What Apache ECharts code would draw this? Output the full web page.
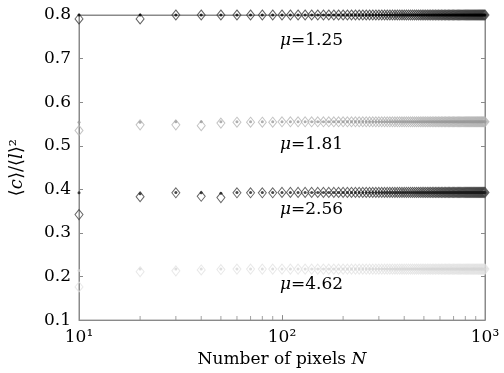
<!DOCTYPE html>
<html><head><meta charset="utf-8">
<script src="https://cdn.jsdelivr.net/npm/echarts@6/dist/echarts.min.js"></script>
<style>html,body{margin:0;padding:0;background:#fff}#c{width:504px;height:373px}</style>
</head><body><div id="c"></div>
<script>
const N = [10,20,30,40,50,60,70,80,90,100,110,120,130,140,150,160,170,180,190,200,
210,220,230,240,250,260,270,280,290,300,310,320,330,340,350,360,370,380,390,400,
410,420,430,440,450,460,470,480,490,500,510,520,530,540,550,560,570,580,590,600,
610,620,630,640,650,660,670,680,690,700,710,720,730,740,750,760,770,780,790,800,
810,820,830,840,850,860,870,880,890,900,910,920,930,940,950,960,970,980,990,1000];

const mu125Diamond = [0.791,0.791,0.800,0.800,0.800,0.800,0.800,0.800,0.800,0.800,
0.800,0.800,0.800,0.800,0.800,0.800,0.800,0.800,0.800,0.800,0.800,0.800,0.800,0.800,0.800,
0.800,0.800,0.800,0.800,0.800,0.800,0.800,0.800,0.800,0.800,0.800,0.800,0.800,0.800,0.800,
0.800,0.800,0.800,0.800,0.800,0.800,0.800,0.800,0.800,0.800,0.800,0.800,0.800,0.800,0.800,
0.800,0.800,0.800,0.800,0.800,0.800,0.800,0.800,0.800,0.800,0.800,0.800,0.800,0.800,0.800,
0.800,0.800,0.800,0.800,0.800,0.800,0.800,0.800,0.800,0.800,0.800,0.800,0.800,0.800,0.800,
0.800,0.800,0.800,0.800,0.800,0.800,0.800,0.800,0.800,0.800,0.800,0.800,0.800,0.800,0.800];
const mu125Dot = [0.800,0.800,0.800,0.800,0.800,0.800,0.800,0.800,0.800,0.800,
0.800,0.800,0.800,0.800,0.800,0.800,0.800,0.800,0.800,0.800,0.800,0.800,0.800,0.800,0.800,
0.800,0.800,0.800,0.800,0.800,0.800,0.800,0.800,0.800,0.800,0.800,0.800,0.800,0.800,0.800,
0.800,0.800,0.800,0.800,0.800,0.800,0.800,0.800,0.800,0.800,0.800,0.800,0.800,0.800,0.800,
0.800,0.800,0.800,0.800,0.800,0.800,0.800,0.800,0.800,0.800,0.800,0.800,0.800,0.800,0.800,
0.800,0.800,0.800,0.800,0.800,0.800,0.800,0.800,0.800,0.800,0.800,0.800,0.800,0.800,0.800,
0.800,0.800,0.800,0.800,0.800,0.800,0.800,0.800,0.800,0.800,0.800,0.800,0.800,0.800,0.800];

const mu181Diamond = [0.535,0.548,0.548,0.546,0.552,0.554,0.554,0.554,0.554,0.555,
0.555,0.555,0.555,0.555,0.555,0.555,0.555,0.555,0.555,0.555,0.555,0.555,0.555,0.555,0.555,
0.555,0.555,0.555,0.555,0.555,0.555,0.555,0.555,0.555,0.555,0.555,0.555,0.555,0.555,0.555,
0.555,0.555,0.555,0.555,0.555,0.555,0.555,0.555,0.555,0.555,0.555,0.555,0.555,0.555,0.555,
0.555,0.555,0.555,0.555,0.555,0.555,0.555,0.555,0.555,0.555,0.555,0.555,0.555,0.555,0.555,
0.555,0.555,0.555,0.555,0.555,0.555,0.555,0.555,0.555,0.555,0.555,0.555,0.555,0.555,0.555,
0.555,0.555,0.555,0.555,0.555,0.555,0.555,0.555,0.555,0.555,0.555,0.555,0.555,0.555,0.555];
const mu181Dot = [0.554,0.554,0.555,0.555,0.555,0.555,0.555,0.555,0.555,0.555,
0.555,0.555,0.555,0.555,0.555,0.555,0.555,0.555,0.555,0.555,0.555,0.555,0.555,0.555,0.555,
0.555,0.555,0.555,0.555,0.555,0.555,0.555,0.555,0.555,0.555,0.555,0.555,0.555,0.555,0.555,
0.555,0.555,0.555,0.555,0.555,0.555,0.555,0.555,0.555,0.555,0.555,0.555,0.555,0.555,0.555,
0.555,0.555,0.555,0.555,0.555,0.555,0.555,0.555,0.555,0.555,0.555,0.555,0.555,0.555,0.555,
0.555,0.555,0.555,0.555,0.555,0.555,0.555,0.555,0.555,0.555,0.555,0.555,0.555,0.555,0.555,
0.555,0.555,0.555,0.555,0.555,0.555,0.555,0.555,0.555,0.555,0.555,0.555,0.555,0.555,0.555];

const mu256Diamond = [0.342,0.383,0.392,0.384,0.381,0.392,0.392,0.392,0.392,0.393,
0.393,0.393,0.393,0.393,0.393,0.393,0.393,0.393,0.393,0.393,0.393,0.393,0.393,0.393,0.393,
0.393,0.393,0.393,0.393,0.393,0.393,0.393,0.393,0.393,0.393,0.393,0.393,0.393,0.393,0.393,
0.393,0.393,0.393,0.393,0.393,0.393,0.393,0.393,0.393,0.393,0.393,0.393,0.393,0.393,0.393,
0.393,0.393,0.393,0.393,0.393,0.393,0.393,0.393,0.393,0.393,0.393,0.393,0.393,0.393,0.393,
0.393,0.393,0.393,0.393,0.393,0.393,0.393,0.393,0.393,0.393,0.393,0.393,0.393,0.393,0.393,
0.393,0.393,0.393,0.393,0.393,0.393,0.393,0.393,0.393,0.393,0.393,0.393,0.393,0.393,0.393];
const mu256Dot = [0.392,0.390,0.393,0.392,0.391,0.393,0.393,0.393,0.393,0.393,
0.393,0.393,0.393,0.393,0.393,0.393,0.393,0.393,0.393,0.393,0.393,0.393,0.393,0.393,0.393,
0.393,0.393,0.393,0.393,0.393,0.393,0.393,0.393,0.393,0.393,0.393,0.393,0.393,0.393,0.393,
0.393,0.393,0.393,0.393,0.393,0.393,0.393,0.393,0.393,0.393,0.393,0.393,0.393,0.393,0.393,
0.393,0.393,0.393,0.393,0.393,0.393,0.393,0.393,0.393,0.393,0.393,0.393,0.393,0.393,0.393,
0.393,0.393,0.393,0.393,0.393,0.393,0.393,0.393,0.393,0.393,0.393,0.393,0.393,0.393,0.393,
0.393,0.393,0.393,0.393,0.393,0.393,0.393,0.393,0.393,0.393,0.393,0.393,0.393,0.393,0.393];

const mu462Diamond = [0.176,0.211,0.213,0.215,0.216,0.217,0.217,0.217,0.217,0.217,
0.217,0.217,0.217,0.217,0.217,0.217,0.217,0.217,0.217,0.217,0.217,0.217,0.217,0.217,0.217,
0.217,0.217,0.217,0.217,0.217,0.217,0.217,0.217,0.217,0.217,0.217,0.217,0.217,0.217,0.217,
0.217,0.217,0.217,0.217,0.217,0.217,0.217,0.217,0.217,0.217,0.217,0.217,0.217,0.217,0.217,
0.217,0.217,0.217,0.217,0.217,0.217,0.217,0.217,0.217,0.217,0.217,0.217,0.217,0.217,0.217,
0.217,0.217,0.217,0.217,0.217,0.217,0.217,0.217,0.217,0.217,0.217,0.217,0.217,0.217,0.217,
0.217,0.217,0.217,0.217,0.217,0.217,0.217,0.217,0.217,0.217,0.217,0.217,0.217,0.217,0.217];
const mu462Dot = [0.214,0.217,0.217,0.217,0.217,0.217,0.217,0.217,0.217,0.217,
0.217,0.217,0.217,0.217,0.217,0.217,0.217,0.217,0.217,0.217,0.217,0.217,0.217,0.217,0.217,
0.217,0.217,0.217,0.217,0.217,0.217,0.217,0.217,0.217,0.217,0.217,0.217,0.217,0.217,0.217,
0.217,0.217,0.217,0.217,0.217,0.217,0.217,0.217,0.217,0.217,0.217,0.217,0.217,0.217,0.217,
0.217,0.217,0.217,0.217,0.217,0.217,0.217,0.217,0.217,0.217,0.217,0.217,0.217,0.217,0.217,
0.217,0.217,0.217,0.217,0.217,0.217,0.217,0.217,0.217,0.217,0.217,0.217,0.217,0.217,0.217,
0.217,0.217,0.217,0.217,0.217,0.217,0.217,0.217,0.217,0.217,0.217,0.217,0.217,0.217,0.217];

const minorTickN = [20,30,40,50,60,70,80,90,200,300,400,500,600,700,800,900];
const muLabels = ['1.25','1.81','2.56','4.62'];
const xTickLabels = {10:'10¹',100:'10²',1000:'10³'};

const FONT = 'DejaVu Serif';
const AX = '#8a8a8a';
const TXT = '#000';
function pairs(ys){ return N.map((n,i)=>[n, ys[i]]); }

const groups = [
  {d: mu125Diamond, o: mu125Dot, dc: '#3a3a3a', oc: '#000000'},
  {d: mu181Diamond, o: mu181Dot, dc: '#b4b4b4', oc: '#9a9a9a'},
  {d: mu256Diamond, o: mu256Dot, dc: '#404040', oc: '#1a1a1a'},
  {d: mu462Diamond, o: mu462Dot, dc: '#e2e2e2', oc: '#d6d6d6'}
];
const series = [];
groups.forEach(g=>{
  series.push({type:'scatter', data: pairs(g.d), symbol:'diamond', symbolSize:[8,10],
    itemStyle:{color:'rgba(255,255,255,0)', borderColor:g.dc, borderWidth:1}, silent:true, clip:false, z:2});
  series.push({type:'scatter', data: pairs(g.o), symbol:'circle', symbolSize:3,
    itemStyle:{color:g.oc}, silent:true, clip:false, z:3});
});
series.push({type:'scatter', data: minorTickN.map(n=>[n,0.1]), symbol:'rect', symbolSize:[1,4],
  symbolOffset:[0,-2], itemStyle:{color:AX}, silent:true, clip:false, z:1});

const labelY = [43, 147, 212, 287];
const graphics = muLabels.map((t,i)=>({
  type:'text', left: 280, top: labelY[i]-11,
  style:{ text:'{i|μ}{n|=' + t + '}', rich:{
    i:{fontFamily:FONT, fontStyle:'italic', fontSize:17, fill:TXT},
    n:{fontFamily:FONT, fontSize:17, fill:TXT} } }
}));

const chart = echarts.init(document.getElementById('c'), null, {renderer:'canvas'});
chart.setOption({
  animation:false,
  backgroundColor:'#ffffff',
  grid:{left:79, right:19, top:15, bottom:52, show:true, borderColor:AX, borderWidth:1},
  xAxis:[{type:'log', logBase:10, min:10, max:1000,
    axisLine:{show:true, lineStyle:{color:AX}},
    axisTick:{show:true, inside:true, length:5, lineStyle:{color:AX}},
    splitLine:{show:false},
    axisLabel:{fontFamily:FONT, fontSize:17, color:TXT, margin:9, formatter:v=>xTickLabels[Math.round(v)]||''},
    name:'{n|Number of pixels }{i|N}', nameLocation:'middle', nameGap:30,
    nameTextStyle:{rich:{n:{fontFamily:FONT,fontSize:17,color:TXT}, i:{fontFamily:FONT,fontSize:17,fontStyle:'italic',color:TXT}}}
  },{type:'log', logBase:10, min:10, max:1000, position:'top',
    axisLine:{show:true, lineStyle:{color:AX}}, axisTick:{show:false}, axisLabel:{show:false}, splitLine:{show:false}}],
  yAxis:[{type:'value', min:0.1, max:0.8, interval:0.1,
    axisLine:{show:true, lineStyle:{color:AX}},
    axisTick:{show:true, inside:true, length:4, lineStyle:{color:AX}},
    splitLine:{show:false},
    axisLabel:{fontFamily:FONT, fontSize:17, color:TXT, margin:8, formatter:v=>v.toFixed(1)},
    name:'{n|⟨}{i|c}{n|⟩/⟨}{i|l}{n|⟩²}', nameLocation:'middle', nameGap:53, nameRotate:90,
    nameTextStyle:{rich:{n:{fontFamily:FONT,fontSize:18,color:TXT}, i:{fontFamily:FONT,fontSize:18,fontStyle:'italic',color:TXT}}}
  },{type:'value', min:0.1, max:0.8, interval:0.1, position:'right',
    axisLine:{show:true, lineStyle:{color:AX}},
    axisTick:{show:true, inside:true, length:4, lineStyle:{color:AX}},
    axisLabel:{show:false}, splitLine:{show:false}}],
  series: series,
  graphic: graphics
});
</script></body></html>
